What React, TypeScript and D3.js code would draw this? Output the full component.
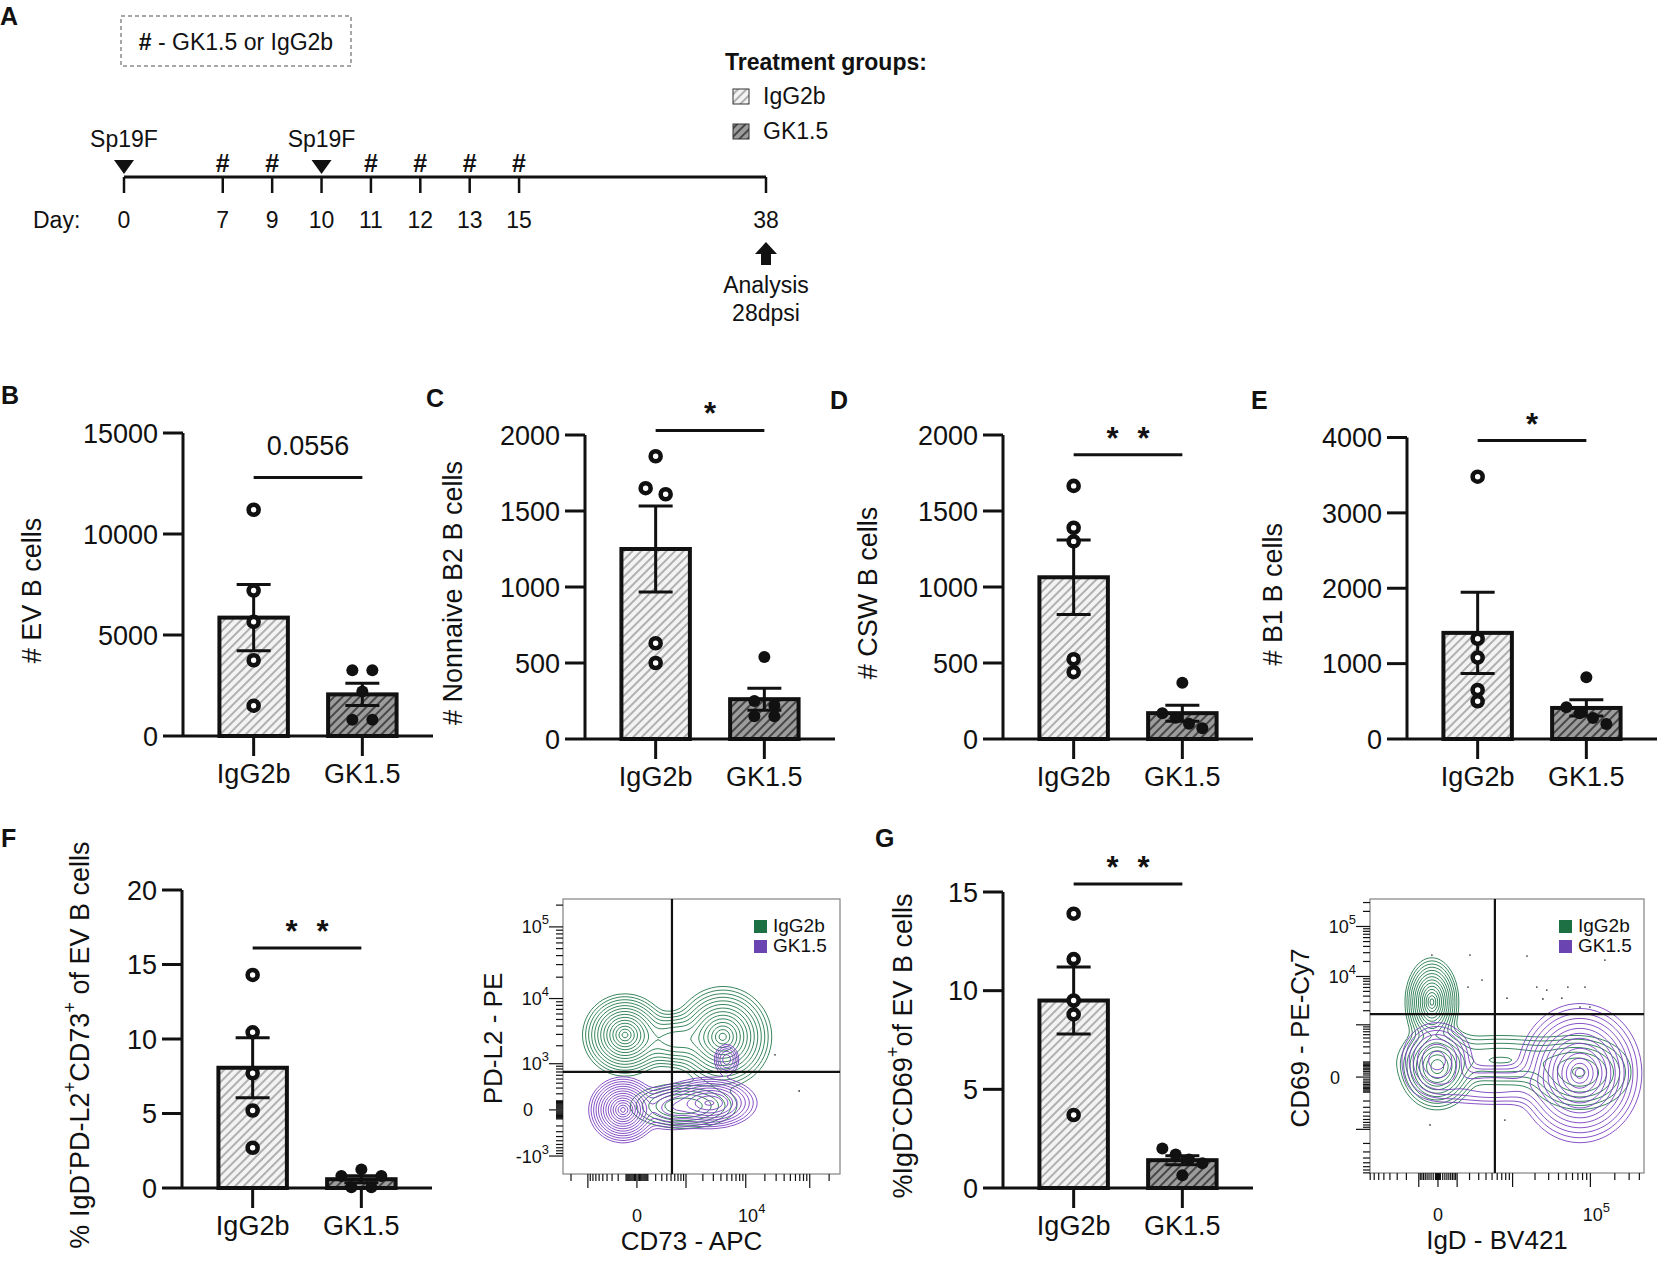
import { useMemo } from "react"
import * as d3 from "d3"

const FONT = "'Liberation Sans', Arial, Helvetica, sans-serif"

// ---------- A: schedule ----------
const timelineDays = [0, 7, 9, 10, 11, 12, 13, 15, 38]
const infectionDays = [0, 10]
const antibodyDays = [7, 9, 11, 12, 13, 15]
const analysisDay = 38
const groups = ["IgG2b", "GK1.5"]

// ---------- B-G: one value per mouse ----------
const evBIgG2b = [11200, 7200, 5650, 3750, 1500]
const evBGK15 = [3250, 3250, 2200, 800, 800]
const b2IgG2b = [1860, 1650, 1610, 630, 500]
const b2GK15 = [540, 250, 220, 150, 150]
const cswIgG2b = [1665, 1390, 1300, 525, 440]
const cswGK15 = [370, 170, 140, 100, 70]
const b1IgG2b = [3480, 1330, 1080, 650, 500]
const b1GK15 = [820, 420, 340, 280, 200]
const pdl2IgG2b = [14.3, 10.45, 7.7, 5.2, 2.7]
const pdl2GK15 = [1.25, 0.8, 0.8, 0.05, 0.05]
const cd69IgG2b = [13.9, 11.6, 9.5, 8.8, 3.7]
const cd69GK15 = [2.0, 1.7, 1.45, 1.25, 0.65]

const sigLabels = ["0.0556", "*", "* *", "*", "* *", "* *"]
const sigHeights = [12800, 2030, 1870, 3960, 16.1, 15.4]

// ---------- flow plots ----------
// populations: [centre x, centre y, spread x, spread y (arcsinh units), weight]
const pdl2PopsIgG2b = [
  [-113, 2940, 0.52, 0.45, 1.0],
  [4310, 2760, 0.6, 0.55, 1.0],
  [600, 2500, 0.6, 0.35, 0.3],
  [900, 40, 0.8, 0.3, 0.25],
]
const pdl2PopsGK15 = [
  [-136, 0, 0.42, 0.36, 1.0],
  [2620, 74, 0.62, 0.3, 0.6],
  [4940, 1185, 0.2, 0.22, 0.15],
  [500, 20, 0.5, 0.3, 0.2],
]
const pdl2Events = [
  [28800, 1425],
  [68400, 246],
]
const pdl2Gate = [523, 700]

const cd69PopsIgG2b = [
  [-260, 3020, 0.26, 0.7, 1.0],
  [-40, 58, 0.38, 0.7, 0.75],
  [74000, 20, 0.6, 0.7, 0.25],
  [6600, 118, 1.2, 0.55, 0.12],
]
const cd69PopsGK15 = [
  [74000, 20, 0.6, 1.1, 1.0],
  [-40, 118, 0.4, 0.7, 0.3],
  [5130, -45, 1.0, 0.45, 0.1],
]
const cd69Events = [
  [-260, 26900], [2040, 26900], [15700, 25600], [151000, 21300], [3430, 8460],
  [1850, 6100], [8340, 3630], [21100, 6100], [28400, 5300], [52500, 6100],
  [85700, 6100], [74200, 2380], [98700, 2380], [25300, 3490], [44100, 3630],
  [-350, -800], [7770, -620],
]
const cd69Gate = [5530, 1700]

const GREEN = "#23794b"
const PURPLE = "#7a3fc0"

type Panel = {
  letter: string
  lx: number
  ly: number
  x0: number
  yTop: number
  yBot: number
  yMax: number
  step: number
  titleDx: number
  title: { t: string; sup?: boolean }[]
  values: number[][]
  sig: string
  sigY: number
}

const barPanels: Panel[] = [
  { letter: "B", lx: 1, ly: 404, x0: 183, yTop: 433, yBot: 736, yMax: 15000, step: 5000, titleDx: 149,
    title: [{ t: "# EV B cells" }], values: [evBIgG2b, evBGK15], sig: sigLabels[0], sigY: sigHeights[0] },
  { letter: "C", lx: 426, ly: 407, x0: 585, yTop: 435, yBot: 739, yMax: 2000, step: 500, titleDx: 130,
    title: [{ t: "# Nonnaive B2 B cells" }], values: [b2IgG2b, b2GK15], sig: sigLabels[1], sigY: sigHeights[1] },
  { letter: "D", lx: 830, ly: 409, x0: 1003, yTop: 435, yBot: 739, yMax: 2000, step: 500, titleDx: 133,
    title: [{ t: "# CSW B cells" }], values: [cswIgG2b, cswGK15], sig: sigLabels[2], sigY: sigHeights[2] },
  { letter: "E", lx: 1251, ly: 409, x0: 1407, yTop: 437.5, yBot: 739, yMax: 4000, step: 1000, titleDx: 132,
    title: [{ t: "# B1 B cells" }], values: [b1IgG2b, b1GK15], sig: sigLabels[3], sigY: sigHeights[3] },
  { letter: "F", lx: 1, ly: 847, x0: 182, yTop: 890, yBot: 1188, yMax: 20, step: 5, titleDx: 100,
    title: [{ t: "% IgD" }, { t: "-", sup: true }, { t: "PD-L2" }, { t: "+", sup: true }, { t: "CD73" }, { t: "+", sup: true }, { t: " of EV B cells" }],
    values: [pdl2IgG2b, pdl2GK15], sig: sigLabels[4], sigY: sigHeights[4] },
  { letter: "G", lx: 875, ly: 847, x0: 1003, yTop: 892, yBot: 1188, yMax: 15, step: 5, titleDx: 98,
    title: [{ t: "%IgD" }, { t: "-", sup: true }, { t: "CD69" }, { t: "+", sup: true }, { t: "of EV B cells" }],
    values: [cd69IgG2b, cd69GK15], sig: sigLabels[5], sigY: sigHeights[5] },
]

type Flow = {
  x0: number; y0: number; w: number; h: number
  cX: number; cY: number
  xLim: number[]; yLim: number[]
  gate: number[]
  xLabels: number[]; yLabels: number[]
  xTitle: string; yTitle: string
  pops: number[][][]
  events: number[][]
  legendX: number
}

const flowPlots: Flow[] = [
  { x0: 563, y0: 899, w: 277, h: 275, cX: 210, cY: 300, xLim: [-2730, 295000], yLim: [-2000, 243000],
    gate: pdl2Gate, xLabels: [0, 1e4], yLabels: [1e5, 1e4, 1e3, 0, -1e3], xTitle: "CD73 - APC", yTitle: "PD-L2 - PE",
    pops: [pdl2PopsIgG2b, pdl2PopsGK15], events: pdl2Events, legendX: 754 },
  { x0: 1370, y0: 899, w: 274, h: 274, cX: 1400, cY: 100, xLim: [-8050, 456000], yLim: [-8050, 353000],
    gate: cd69Gate, xLabels: [0, 1e5], yLabels: [1e5, 1e4, 0], xTitle: "IgD - BV421", yTitle: "CD69 - PE-Cy7",
    pops: [cd69PopsIgG2b, cd69PopsGK15], events: cd69Events, legendX: 1559 },
]

const asinh = (c: number) => (v: number) => Math.sign(v) * Math.log1p(Math.abs(v) / c)
// contour levels spaced so that rings of one population sit at even distances
const contourLevels = d3.range(14).map((i) => Math.exp(-0.5 * Math.pow(2.9 * (1 - i / 14), 2)))

function mean(a: number[]) {
  return d3.mean(a) as number
}
function sem(a: number[]) {
  return (d3.deviation(a) as number) / Math.sqrt(a.length)
}

// spread mice that sit on top of each other, like a column scatter
function placePoints(values: number[], y: (v: number) => number) {
  const items = values.map((v) => ({ v, py: y(v), dx: 0 })).sort((a, b) => b.v - a.v)
  const rows: (typeof items)[] = []
  for (const it of items) {
    const last = rows[rows.length - 1]
    if (last && it.py - last[last.length - 1].py < 10) last.push(it)
    else rows.push([it])
  }
  for (const row of rows) {
    const n = row.length
    if (n === 2) { row[0].dx = -10; row[1].dx = 10 }
    else if (n === 3) { row[0].dx = 0; row[1].dx = -20; row[2].dx = 20 }
    else if (n > 3) row.forEach((it, i) => (it.dx = -20 + (i * 40) / (n - 1)))
  }
  return items
}

function RichText({ parts, size }: { parts: { t: string; sup?: boolean }[]; size: number }) {
  const out: JSX.Element[] = []
  let raised = false
  parts.forEach((p, i) => {
    let dy = 0
    if (p.sup && !raised) { dy = -size * 0.42; raised = true }
    else if (!p.sup && raised) { dy = size * 0.42; raised = false }
    out.push(
      <tspan key={i} dy={dy || undefined} fontSize={p.sup ? size * 0.68 : size}>
        {p.t}
      </tspan>
    )
  })
  return <>{out}</>
}

function Stars({ label, x, y }: { label: string; x: number; y: number }) {
  const n = label.split("*").length - 1
  return (
    <g>
      {d3.range(n).map((i) => (
        <text key={i} x={x + (i - (n - 1) / 2) * 31} y={y} textAnchor="middle" fontSize={31} fontWeight="bold">*</text>
      ))}
    </g>
  )
}

function Timeline() {
  const last = timelineDays.length - 1
  const slot = (i: number) => i + (i > 0 ? 1 : 0) + (i === last ? 4 : 0)
  const x = d3.scaleLinear().domain([0, slot(last)]).range([124, 766])
  const dayX = (d: number) => x(slot(timelineDays.indexOf(d)))
  const lineY = 177
  const ax = dayX(analysisDay)
  const arrow = d3.path()
  arrow.moveTo(ax, 242)
  arrow.lineTo(ax + 11, 254)
  arrow.lineTo(ax + 5, 254)
  arrow.lineTo(ax + 5, 265)
  arrow.lineTo(ax - 5, 265)
  arrow.lineTo(ax - 5, 254)
  arrow.lineTo(ax - 11, 254)
  arrow.closePath()
  return (
    <g fontSize={23}>
      <text x={0} y={25} fontSize={25} fontWeight="bold">A</text>
      <rect x={121} y={16} width={230} height={50} fill="none" stroke="#8a8a8a" strokeWidth={1.5} strokeDasharray="4 3" />
      <text x={236} y={50} textAnchor="middle">
        <tspan fontWeight="bold">#</tspan> - GK1.5 or IgG2b
      </text>

      <line x1={dayX(0)} x2={ax} y1={lineY} y2={lineY} stroke="#111" strokeWidth={3} />
      {timelineDays.map((d) => (
        <g key={d}>
          <line x1={dayX(d)} x2={dayX(d)} y1={lineY} y2={lineY + 16} stroke="#111" strokeWidth={2.5} />
          <text x={dayX(d)} y={228} textAnchor="middle">{d}</text>
        </g>
      ))}
      <text x={33} y={228}>Day:</text>
      {infectionDays.map((d) => (
        <g key={d}>
          <path d={`M${dayX(d) - 10},160L${dayX(d) + 10},160L${dayX(d)},174Z`} fill="#111" />
          <text x={dayX(d)} y={147} textAnchor="middle">Sp19F</text>
        </g>
      ))}
      {antibodyDays.map((d) => (
        <text key={d} x={dayX(d)} y={172} textAnchor="middle" fontWeight="bold" fontSize={25}>#</text>
      ))}
      <path d={arrow.toString()} fill="#111" />
      <text x={ax} y={293} textAnchor="middle">Analysis</text>
      <text x={ax} y={321} textAnchor="middle">28dpsi</text>

      <text x={725} y={70} fontWeight="bold">Treatment groups:</text>
      {groups.map((g, i) => (
        <g key={g}>
          <rect x={733} y={89 + i * 35} width={16} height={15} fill={`url(#hatch${i})`} stroke="#333" strokeWidth={1} />
          <text x={763} y={104 + i * 35}>{g}</text>
        </g>
      ))}
    </g>
  )
}

function BarPanel({ p }: { p: Panel }) {
  const y = d3.scaleLinear().domain([0, p.yMax]).range([p.yBot, p.yTop])
  const x = d3.scalePoint<string>().domain(groups).range([p.x0, p.x0 + 250]).padding(0.65)
  const barW = x.step() * 0.63
  const ticks = d3.range(0, p.yMax + 1e-9, p.step)
  const c0 = x(groups[0]) as number
  const c1 = x(groups[1]) as number
  const sy = y(p.sigY)
  const isStars = p.sig.includes("*")
  return (
    <g>
      <text x={p.lx} y={p.ly} fontSize={25} fontWeight="bold">{p.letter}</text>
      <text
        transform={`translate(${p.x0 - p.titleDx},${(p.yTop + p.yBot) / 2 + 6}) rotate(-90)`}
        textAnchor="middle"
        dominantBaseline="middle"
        fontSize={27}
      >
        <RichText parts={p.title} size={27} />
      </text>
      {ticks.map((t) => (
        <g key={t}>
          <line x1={p.x0 - 20} x2={p.x0} y1={y(t)} y2={y(t)} stroke="#111" strokeWidth={3} />
          <text x={p.x0 - 25} y={y(t)} dy="0.36em" textAnchor="end" fontSize={27}>{t}</text>
        </g>
      ))}
      {groups.map((g, gi) => {
        const cx = x(g) as number
        const vals = p.values[gi]
        const m = mean(vals)
        const s = sem(vals)
        const pts = placePoints(vals, y)
        return (
          <g key={g}>
            <rect
              x={cx - barW / 2}
              y={y(m)}
              width={barW}
              height={p.yBot - y(m)}
              fill={`url(#hatch${gi})`}
              stroke="#111"
              strokeWidth={4}
            />
            <line x1={cx} x2={cx} y1={p.yBot} y2={p.yBot + 20} stroke="#111" strokeWidth={3} />
            <text x={cx} y={p.yBot + 47} textAnchor="middle" fontSize={27}>{g}</text>
            <g stroke="#111" strokeWidth={3}>
              <line x1={cx} x2={cx} y1={y(m + s)} y2={y(Math.max(0, m - s))} />
              <line x1={cx - 17} x2={cx + 17} y1={y(m + s)} y2={y(m + s)} />
              <line x1={cx - 17} x2={cx + 17} y1={y(Math.max(0, m - s))} y2={y(Math.max(0, m - s))} />
            </g>
            {pts.map((pt, i) => (
              <circle
                key={i}
                cx={cx + pt.dx}
                cy={pt.py}
                r={gi === 0 ? 5 : 6}
                fill={gi === 0 ? "#fff" : "#111"}
                stroke="#111"
                strokeWidth={gi === 0 ? 4.6 : 0}
              />
            ))}
          </g>
        )
      })}
      <line x1={p.x0} x2={p.x0} y1={p.yTop} y2={p.yBot} stroke="#111" strokeWidth={3} />
      <line x1={p.x0} x2={p.x0 + 250} y1={p.yBot} y2={p.yBot} stroke="#111" strokeWidth={3} />
      <line x1={c0} x2={c1} y1={sy} y2={sy} stroke="#111" strokeWidth={3} />
      {isStars ? (
        <Stars label={p.sig} x={(c0 + c1) / 2} y={sy - 6} />
      ) : (
        <text x={(c0 + c1) / 2} y={sy - 22} textAnchor="middle" fontSize={27}>{p.sig}</text>
      )}
    </g>
  )
}

function flowTicks(lo: number, hi: number) {
  const out: { v: number; major: boolean }[] = [{ v: 0, major: true }]
  for (let k = 1; k <= 5; k++)
    for (let m = 1; m <= 9; m++)
      for (const s of [1, -1]) {
        const v = s * m * Math.pow(10, k)
        if (v > lo && v < hi) out.push({ v, major: m === 1 && k >= 3 })
      }
  return out
}

function FlowLabel({ v, size }: { v: number; size: number }) {
  if (v === 0) return <>0</>
  const e = Math.round(Math.log10(Math.abs(v)))
  return (
    <>
      {v < 0 ? "-" : ""}10
      <tspan dy={-size * 0.5} fontSize={size * 0.72}>{e}</tspan>
    </>
  )
}

function FlowPlot({ f, idx }: { f: Flow; idx: number }) {
  const tx = asinh(f.cX)
  const ty = asinh(f.cY)
  const xs = d3.scaleLinear().domain([tx(f.xLim[0]), tx(f.xLim[1])]).range([f.x0, f.x0 + f.w])
  const ys = d3.scaleLinear().domain([ty(f.yLim[0]), ty(f.yLim[1])]).range([f.y0 + f.h, f.y0])
  const X = (v: number) => xs(tx(v))
  const Y = (v: number) => ys(ty(v))

  const paths = useMemo(() => {
    const cell = 2
    const nx = Math.ceil(f.w / cell)
    const ny = Math.ceil(f.h / cell)
    const geo = d3.geoPath(d3.geoIdentity().scale(cell).translate([f.x0, f.y0]) as any)
    return f.pops.map((pops) => {
      const cs = pops.map(([cx, cy, sx, sy, w]) => ({ mx: tx(cx), my: ty(cy), sx, sy, w }))
      const values = new Array(nx * ny)
      for (let j = 0; j < ny; j++) {
        const t2 = ys.invert(f.y0 + (j + 0.5) * cell)
        for (let i = 0; i < nx; i++) {
          const t1 = xs.invert(f.x0 + (i + 0.5) * cell)
          let s = 0
          for (const c of cs) {
            const a = (t1 - c.mx) / c.sx
            const b = (t2 - c.my) / c.sy
            s += c.w * Math.exp(-0.5 * (a * a + b * b))
          }
          values[j * nx + i] = s
        }
      }
      const max = d3.max(values) as number
      const contours = d3.contours().size([nx, ny]).thresholds(contourLevels.map((l) => l * max))(values)
      return contours.map((c) => geo(c) || "")
    })
  }, [f])

  const xt = flowTicks(f.xLim[0], f.xLim[1])
  const yt = flowTicks(f.yLim[0], f.yLim[1])
  const clipId = `flowclip${idx}`
  const colors = [GREEN, PURPLE]
  return (
    <g>
      <defs>
        <clipPath id={clipId}>
          <rect x={f.x0} y={f.y0} width={f.w} height={f.h} />
        </clipPath>
      </defs>
      <g clipPath={`url(#${clipId})`}>
        {paths.map((ps, gi) => (
          <g key={gi} fill="none" stroke={colors[gi]} strokeWidth={0.9}>
            {ps.map((d, i) => (
              <path key={i} d={d} />
            ))}
          </g>
        ))}
        {f.events.map(([ex, ey], i) => (
          <circle key={i} cx={X(ex)} cy={Y(ey)} r={0.9} fill="#444" />
        ))}
      </g>
      <rect x={f.x0} y={f.y0} width={f.w} height={f.h} fill="none" stroke="#8c8c8c" strokeWidth={1.3} />
      <line x1={X(f.gate[0])} x2={X(f.gate[0])} y1={f.y0} y2={f.y0 + f.h} stroke="#111" strokeWidth={2.2} />
      <line x1={f.x0} x2={f.x0 + f.w} y1={Y(f.gate[1])} y2={Y(f.gate[1])} stroke="#111" strokeWidth={2.2} />

      {yt.map((t, i) => (
        <line key={i} x1={f.x0 - (t.major ? 14 : 7)} x2={f.x0} y1={Y(t.v)} y2={Y(t.v)} stroke="#111" strokeWidth={1.2} />
      ))}
      {xt.map((t, i) => (
        <line key={i} x1={X(t.v)} x2={X(t.v)} y1={f.y0 + f.h} y2={f.y0 + f.h + (t.major ? 14 : 7)} stroke="#111" strokeWidth={1.2} />
      ))}
      {f.yLabels.map((v) => (
        <text key={v} x={f.x0 - (v === 0 ? 30 : 14)} y={Y(v)} dy="0.36em" textAnchor="end" fontSize={18}>
          <FlowLabel v={v} size={18} />
        </text>
      ))}
      {f.xLabels.map((v) => (
        <text key={v} x={X(v) + (v === 0 ? 0 : 6)} y={f.y0 + f.h + 48} textAnchor="middle" fontSize={18}>
          <FlowLabel v={v} size={18} />
        </text>
      ))}
      <text
        transform={`translate(${f.x0 - 68},${f.y0 + f.h / 2 + 2}) rotate(-90)`}
        textAnchor="middle"
        dominantBaseline="middle"
        fontSize={26}
      >
        {f.yTitle}
      </text>
      <text x={f.x0 + f.w / 2 - 10} y={f.y0 + f.h + 76} textAnchor="middle" fontSize={26}>{f.xTitle}</text>

      {groups.map((g, i) => (
        <g key={g}>
          <rect x={f.legendX} y={f.y0 + 21 + i * 20} width={13} height={13} fill={i === 0 ? "#1d7044" : "#6a44b0"} />
          <text x={f.legendX + 19} y={f.y0 + 33 + i * 20} fontSize={19}>{g}</text>
        </g>
      ))}
    </g>
  )
}

export default function App() {
  return (
    <div style={{ position: "absolute", left: 0, top: 0 }}>
      <svg width={1667} height={1264} viewBox="0 0 1667 1264" style={{ display: "block", background: "#fff" }} fontFamily={FONT} fill="#111">
        <defs>
          <pattern id="hatch0" patternUnits="userSpaceOnUse" width={6} height={6} patternTransform="rotate(45)">
            <rect width={6} height={6} fill="#f3f3f3" />
            <line x1={3} x2={3} y1={0} y2={6} stroke="#9a9a9a" strokeWidth={1.5} />
          </pattern>
          <pattern id="hatch1" patternUnits="userSpaceOnUse" width={6} height={6} patternTransform="rotate(45)">
            <rect width={6} height={6} fill="#9c9c9c" />
            <line x1={3} x2={3} y1={0} y2={6} stroke="#2a2a2a" strokeWidth={1.5} />
          </pattern>
        </defs>
        <Timeline />
        {barPanels.map((p) => (
          <BarPanel key={p.letter} p={p} />
        ))}
        {flowPlots.map((f, i) => (
          <FlowPlot key={i} f={f} idx={i} />
        ))}
      </svg>
    </div>
  )
}
